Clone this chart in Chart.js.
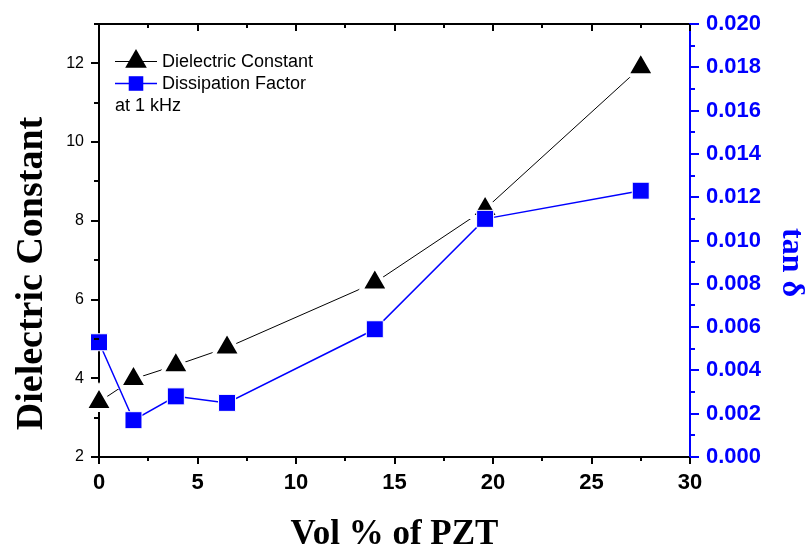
<!DOCTYPE html>
<html>
<head>
<meta charset="utf-8">
<script src="https://cdn.jsdelivr.net/npm/chart.js@4.4.1/dist/chart.umd.min.js"></script>
<style>
  html, body { margin: 0; padding: 0; background: #ffffff; }
  #wrap { width: 810px; height: 547px; }
</style>
</head>
<body>
<div id="wrap"><canvas id="c" width="810" height="547"></canvas></div>
<script>
// PZT volume fraction (%) of each composite sample
const volPZT = [0, 1.75, 3.9, 6.5, 14.0, 19.6, 27.5];
// Dielectric constant measured at 1 kHz
const dielectricConstant = [3.40, 3.98, 4.33, 4.78, 6.43, 8.30, 11.90];
// Dissipation factor (tan delta) at 1 kHz
const dissipationFactor = [0.0053, 0.0017, 0.0028, 0.0025, 0.0059, 0.0110, 0.0123];

// Axis ticks
const xMajorTicks = [0, 5, 10, 15, 20, 25, 30];
const xMinorTicks = [2.5, 7.5, 12.5, 17.5, 22.5, 27.5];
const dkMajorTicks = [2, 4, 6, 8, 10, 12];
const dkMinorTicks = [3, 5, 7, 9, 11, 13];
const tanMajorTicks = [0, 0.002, 0.004, 0.006, 0.008, 0.010, 0.012, 0.014, 0.016, 0.018, 0.020];
const tanMinorTicks = [0.001, 0.003, 0.005, 0.007, 0.009, 0.011, 0.013, 0.015, 0.017, 0.019];

const BLUE = '#0000ff';
const SANS = '"Liberation Sans", Arial, sans-serif';
const SERIF = '"Liberation Serif", "Times New Roman", serif';

const toPoints = (xs, ys) => xs.map((x, i) => ({ x: x, y: ys[i] }));

// Marker styles: the white border leaves a small gap between line and marker
const triangleMarker = { pointStyle: 'triangle', radius: 16, borderWidth: 4, rotation: 0 };
const squareMarker = { pointStyle: 'rect', radius: 12.02, borderWidth: 1, rotation: 0 };

// Fixed box sizes around the plot area
const fixBox = (w, h) => s => {
  if (w !== null) s.width = w;
  if (h !== null) s.height = h;
  s.paddingTop = 0; s.paddingBottom = 0; s.paddingLeft = 0; s.paddingRight = 0;
};

// Tick marks (major/minor, inward on top) and the axis titles
const axisDecor = {
  id: 'axisDecor',
  afterDraw(chart) {
    const { ctx, chartArea: a, scales } = chart;
    ctx.save();
    ctx.lineWidth = 2;
    ctx.lineCap = 'butt';

    const vTick = (scale, values, y0, len, color) => {
      ctx.strokeStyle = color;
      values.forEach(v => {
        const px = Math.round(scale.getPixelForValue(v));
        ctx.beginPath(); ctx.moveTo(px, y0); ctx.lineTo(px, y0 + len); ctx.stroke();
      });
    };
    const hTick = (scale, values, x0, len, color) => {
      ctx.strokeStyle = color;
      values.forEach(v => {
        const py = Math.round(scale.getPixelForValue(v));
        ctx.beginPath(); ctx.moveTo(x0, py); ctx.lineTo(x0 + len, py); ctx.stroke();
      });
    };

    // bottom (outward) and top (inward)
    vTick(scales.x, xMajorTicks, a.bottom, 7, '#000');
    vTick(scales.x, xMinorTicks, a.bottom, 4, '#000');
    vTick(scales.x, xMajorTicks, a.top, 7, '#000');
    vTick(scales.x, xMinorTicks, a.top, 4, '#000');
    // left
    hTick(scales.y, dkMajorTicks, a.left, -8, '#000');
    hTick(scales.y, dkMinorTicks, a.left, -5, '#000');
    // right
    hTick(scales.y1, tanMajorTicks, a.right, 9, BLUE);
    hTick(scales.y1, tanMinorTicks, a.right, 5, BLUE);

    // axis titles
    ctx.textAlign = 'center';
    ctx.textBaseline = 'alphabetic';
    ctx.fillStyle = '#000';
    ctx.font = 'bold 35px ' + SERIF;
    ctx.fillText('Vol % of PZT', (a.left + a.right) / 2, 544);

    ctx.save();
    ctx.translate(42, 273.5);
    ctx.rotate(-Math.PI / 2);
    ctx.font = 'bold 38px ' + SERIF;
    ctx.fillText('Dielectric Constant', 0, 0);
    ctx.restore();

    ctx.save();
    ctx.translate(783, 262.5);
    ctx.rotate(Math.PI / 2);
    ctx.fillStyle = BLUE;
    ctx.font = 'bold 32px ' + SERIF;
    ctx.fillText('tan \u03B4', 0, 0);
    ctx.restore();

    ctx.restore();
  }
};

// Legend box in the upper-left corner of the plot
const plotLegend = {
  id: 'plotLegend',
  afterDatasetsDraw(chart) {
    const { ctx } = chart;
    const drawPoint = Chart.helpers.drawPoint;
    ctx.save();

    // Dielectric Constant
    ctx.strokeStyle = '#000';
    ctx.lineWidth = 1;
    ctx.beginPath(); ctx.moveTo(115, 61.5); ctx.lineTo(157, 61.5); ctx.stroke();
    ctx.fillStyle = '#000';
    drawPoint(ctx, { pointStyle: 'triangle', radius: 12.5, borderWidth: 0, rotation: 0 }, 136, 61.5);

    // Dissipation Factor
    ctx.strokeStyle = BLUE;
    ctx.lineWidth = 1.5;
    ctx.beginPath(); ctx.moveTo(115, 83.5); ctx.lineTo(157, 83.5); ctx.stroke();
    ctx.fillStyle = BLUE;
    drawPoint(ctx, { pointStyle: 'rect', radius: 10.3, borderWidth: 0, rotation: 0 }, 136, 83.5);

    ctx.fillStyle = '#000';
    ctx.font = '18px ' + SANS;
    ctx.textAlign = 'left';
    ctx.textBaseline = 'middle';
    ctx.fillText('Dielectric Constant', 162, 62);
    ctx.fillText('Dissipation Factor', 162, 84);
    ctx.fillText('at 1 kHz', 115, 106);
    ctx.restore();
  }
};

new Chart(document.getElementById('c'), {
  type: 'scatter',
  data: {
    datasets: [
      {
        label: 'Dissipation Factor',
        data: toPoints(volPZT, dissipationFactor),
        yAxisID: 'y1',
        showLine: true,
        clip: false,
        borderColor: BLUE,
        borderWidth: 1.5,
        pointStyle: squareMarker.pointStyle,
        pointRadius: squareMarker.radius,
        pointHoverRadius: squareMarker.radius,
        pointBackgroundColor: BLUE,
        pointBorderColor: '#ffffff',
        pointBorderWidth: squareMarker.borderWidth,
        pointHoverBorderWidth: squareMarker.borderWidth
      },
      {
        label: 'Dielectric Constant',
        data: toPoints(volPZT, dielectricConstant),
        yAxisID: 'y',
        showLine: true,
        clip: false,
        borderColor: '#000000',
        borderWidth: 1,
        pointStyle: triangleMarker.pointStyle,
        pointRadius: triangleMarker.radius,
        pointHoverRadius: triangleMarker.radius,
        pointBackgroundColor: '#000000',
        pointBorderColor: '#ffffff',
        pointBorderWidth: triangleMarker.borderWidth,
        pointHoverBorderWidth: triangleMarker.borderWidth
      }
    ]
  },
  options: {
    responsive: false,
    animation: false,
    events: [],
    layout: { padding: 0, autoPadding: false },
    plugins: { legend: { display: false }, tooltip: { enabled: false } },
    scales: {
      x: {
        type: 'linear',
        position: 'bottom',
        min: 0, max: 30,
        afterFit: fixBox(null, 90),
        grid: { drawOnChartArea: false, drawTicks: false },
        border: { display: true, color: '#000', width: 2 },
        ticks: { stepSize: 5, padding: 13, color: '#000', font: { family: SANS, size: 22, weight: 'bold' } }
      },
      x2: {
        type: 'linear',
        axis: 'x',
        position: 'top',
        min: 0, max: 30,
        afterFit: fixBox(null, 24),
        grid: { drawOnChartArea: false, drawTicks: false },
        border: { display: true, color: '#000', width: 2 },
        ticks: { display: false }
      },
      y: {
        type: 'linear',
        position: 'left',
        min: 2, max: 13,
        afterFit: fixBox(99, null),
        grid: { drawOnChartArea: false, drawTicks: false },
        border: { display: true, color: '#000', width: 2 },
        ticks: { stepSize: 2, includeBounds: false, padding: 15, color: '#000', font: { family: SANS, size: 16 } }
      },
      y1: {
        type: 'linear',
        position: 'right',
        min: 0, max: 0.020,
        afterFit: fixBox(120, null),
        grid: { drawOnChartArea: false, drawTicks: false },
        border: { display: true, color: BLUE, width: 2 },
        ticks: {
          stepSize: 0.002, padding: 16, color: BLUE,
          font: { family: SANS, size: 22, weight: 'bold' },
          callback: v => Number(v).toFixed(3)
        }
      }
    }
  },
  plugins: [axisDecor, plotLegend]
});
</script>
</body>
</html>
